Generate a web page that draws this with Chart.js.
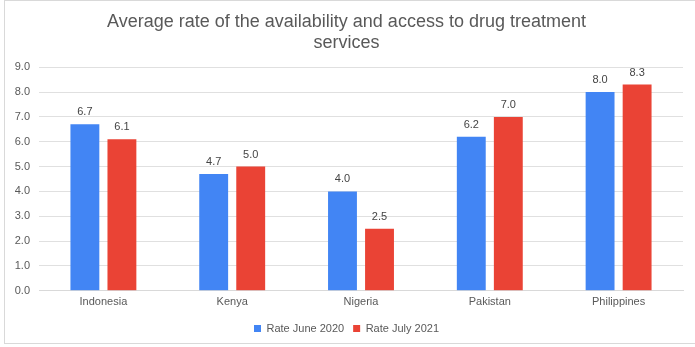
<!DOCTYPE html>
<html lang="en">
<head>
<meta charset="UTF-8">
<title>Average rate of the availability and access to drug treatment services</title>
<script src="https://cdn.jsdelivr.net/npm/chart.js"></script>
<style>
    html, body { margin: 0; padding: 0; background: #fff; }
    #frame {
        position: absolute; left: 4px; top: 0px; width: 700px; height: 344px;
        border: 1px solid #d9d9d9; border-right: none; box-sizing: border-box;
    }
    #myChart { position: absolute; left: 0; top: 0; }
</style>
</head>
<body>
<div id="frame"></div>
<canvas id="myChart" width="695" height="347"></canvas>
<script>
    // dados
    const countries = ['Indonesia', 'Kenya', 'Nigeria', 'Pakistan', 'Philippines'];
    const rateJune2020 = [6.7, 4.7, 4.0, 6.2, 8.0];
    const rateJuly2021 = [6.1, 5.0, 2.5, 7.0, 8.3];
    const yTicks = [0, 1, 2, 3, 4, 5, 6, 7, 8, 9];

    const FONT = "'Liberation Sans', Arial, sans-serif";

    // escreve o valor acima de cada barra
    const valueLabels = {
        id: 'valueLabels',
        afterDatasetsDraw(chart) {
            const ctx = chart.ctx;
            ctx.save();
            ctx.font = '11px ' + FONT;
            ctx.fillStyle = '#444';
            ctx.textAlign = 'center';
            ctx.textBaseline = 'alphabetic';
            chart.data.datasets.forEach((ds, i) => {
                chart.getDatasetMeta(i).data.forEach((bar, j) => {
                    ctx.fillText(ds.data[j].toFixed(1), bar.x, bar.y - 9);
                });
            });
            ctx.restore();
        }
    };

    const ctx = document.getElementById('myChart').getContext('2d');
    const myChart = new Chart(ctx, {
        type: 'bar',
        data: {
            labels: countries,
            datasets: [{
                label: 'Rate June 2020',
                data: rateJune2020,
                backgroundColor: '#4285f4',
                categoryPercentage: 0.575,
                barPercentage: 0.78
            }, {
                label: 'Rate July 2021',
                data: rateJuly2021,
                backgroundColor: '#ea4335',
                categoryPercentage: 0.575,
                barPercentage: 0.78
            }]
        },
        options: {
            responsive: false,
            animation: false,
            layout: { padding: { left: 10, right: 12, top: 8, bottom: 3 } },
            plugins: {
                title: {
                    display: true,
                    text: ['Average rate of the availability and access to drug treatment', 'services'],
                    color: '#595959',
                    font: { family: FONT, size: 18, weight: 'normal', lineHeight: 1.2 },
                    padding: { top: 3, bottom: 13 }
                },
                legend: {
                    position: 'bottom',
                    labels: {
                        boxWidth: 7, boxHeight: 7,
                        color: '#595959',
                        font: { family: FONT, size: 11 },
                        padding: 9
                    }
                },
                tooltip: { enabled: false }
            },
            scales: {
                x: {
                    grid: { drawOnChartArea: false, drawTicks: false, color: '#d9d9d9' },
                    border: { color: '#d9d9d9' },
                    ticks: { color: '#595959', padding: 5, font: { family: FONT, size: 11 } }
                },
                y: {
                    min: 0, max: 9,
                    afterBuildTicks(scale) { scale.ticks = yTicks.map(v => ({ value: v })); },
                    afterFit(scale) { scale.width = 29; },
                    grid: { color: '#e0e0e0', drawTicks: false },
                    border: { display: false },
                    ticks: {
                        color: '#595959', padding: 9,
                        font: { family: FONT, size: 11 },
                        callback: v => v.toFixed(1)
                    }
                }
            }
        },
        plugins: [valueLabels]
    });
</script>
</body>
</html>
